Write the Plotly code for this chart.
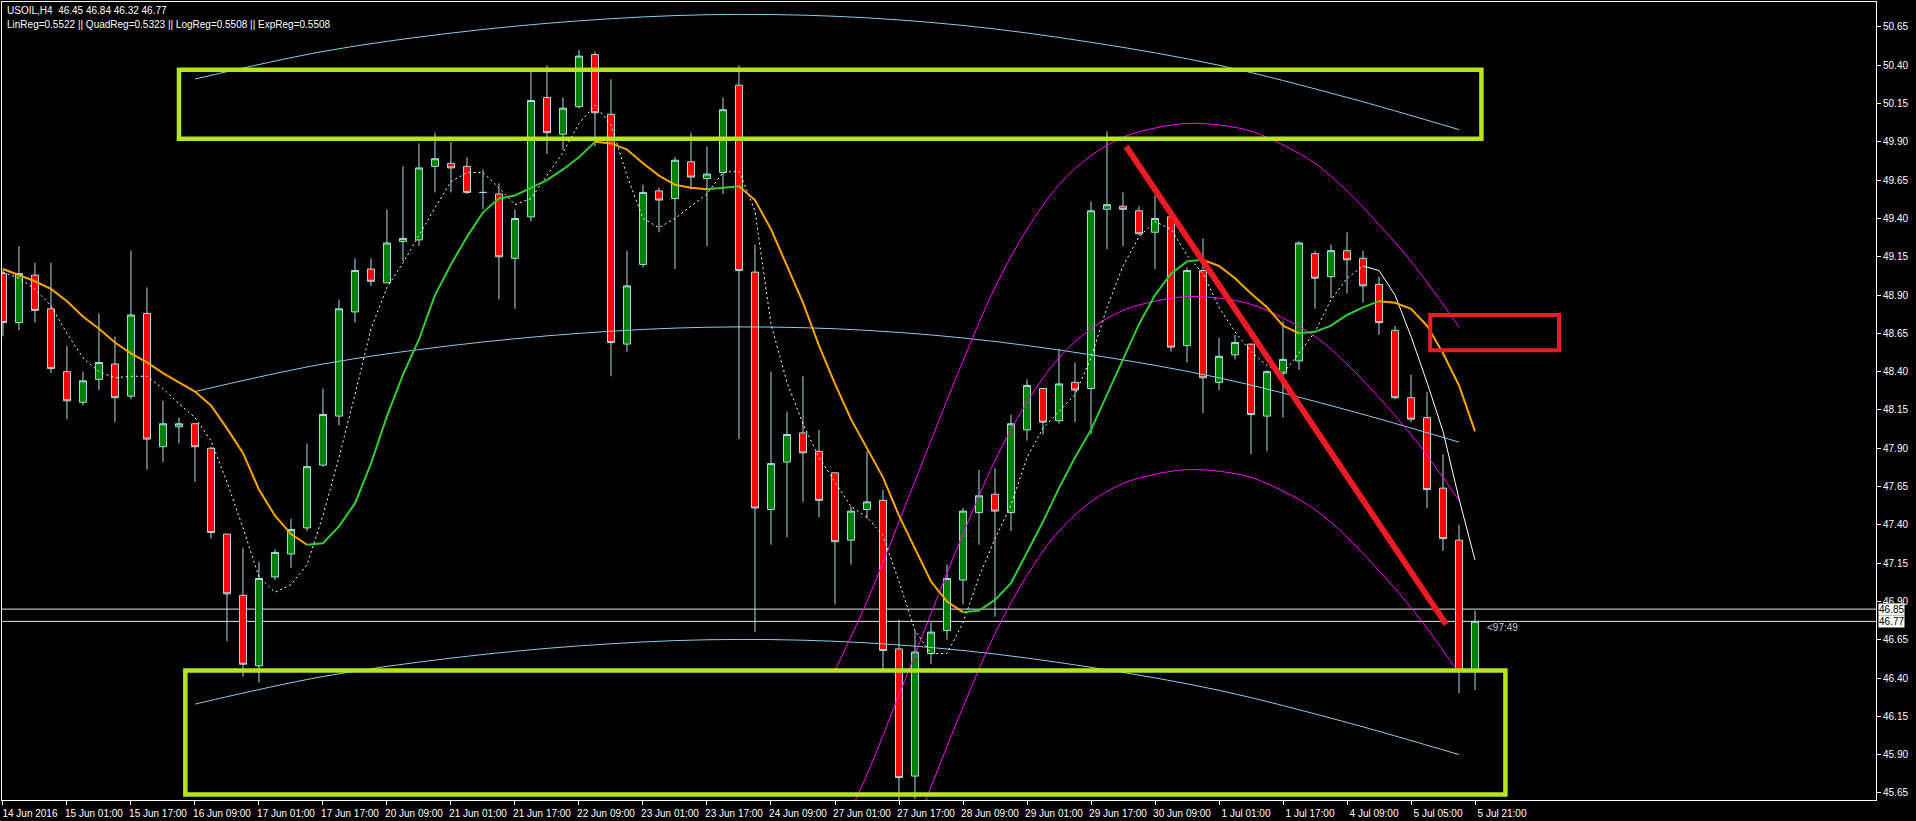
import plotly.graph_objects as go

# ---------------- data ----------------
BARS = list(range(93))
OPEN = [49.04,48.72,49.03,48.81,48.40,48.20,48.35,48.45,48.24,48.78,47.91,48.04,48.06,47.90,47.34,46.94,46.48,47.06,47.21,47.38,
        47.79,48.11,48.79,49.07,48.98,49.25,49.26,49.74,49.76,49.74,49.57,49.56,49.14,49.41,50.19,49.95,50.13,50.47,50.08,48.58,
        49.10,49.58,49.53,49.77,49.66,49.70,50.27,49.05,47.50,47.81,48.00,47.88,47.74,47.30,47.50,47.56,46.59,45.76,46.56,46.71,
        47.04,47.48,47.60,47.48,48.02,48.29,48.08,48.33,48.29,49.46,49.48,49.45,49.31,49.41,48.57,49.06,48.33,48.51,48.58,48.11,
        48.39,48.47,49.17,49.02,49.19,49.14,48.97,48.67,48.23,48.10,47.64,47.30,46.45]
HIGH = [49.06,49.22,49.11,49.11,48.57,48.40,48.78,48.63,49.19,48.95,48.21,48.10,48.06,47.91,47.34,47.25,47.16,47.24,47.44,47.93,
        48.29,48.87,49.14,49.14,49.46,49.74,49.89,49.96,49.90,49.80,49.72,49.63,49.46,50.36,50.40,50.19,50.50,50.49,50.31,49.19,
        49.62,49.60,49.80,49.96,49.87,50.19,50.40,49.23,48.40,48.14,48.37,48.02,47.74,47.52,47.88,47.63,46.78,46.71,46.76,47.14,
        47.51,47.76,47.77,48.12,48.35,48.29,48.55,48.46,49.51,49.97,49.57,49.48,49.55,49.41,49.08,49.27,48.62,48.64,48.58,48.41,
        48.73,49.25,49.19,49.23,49.31,49.19,49.02,48.70,48.38,48.27,47.86,47.40,46.84]
LOW = [48.63,48.67,48.72,48.39,48.09,48.18,48.28,48.07,48.22,47.76,47.81,47.93,47.68,47.31,46.64,46.41,46.37,47.04,47.12,47.36,
       47.78,48.05,48.72,48.96,48.98,49.12,49.22,49.57,49.57,49.56,49.46,48.87,48.81,49.38,49.82,49.85,50.12,49.87,48.37,48.53,
       49.08,49.31,49.07,49.59,49.22,49.56,47.96,46.70,47.27,47.32,47.55,47.45,46.88,47.14,47.44,46.45,45.59,45.61,46.49,46.65,
       46.88,47.27,46.80,47.36,47.95,47.99,48.06,48.07,47.99,49.20,49.22,49.29,49.07,48.53,48.46,48.13,48.28,48.48,47.86,47.88,
       48.10,48.41,48.81,48.88,48.91,48.85,48.64,48.22,48.07,47.51,47.23,46.30,46.32]
CLOSE = [48.72,49.04,48.80,48.42,48.21,48.34,48.46,48.23,48.77,47.96,48.06,48.06,47.91,47.35,46.95,46.49,47.05,47.22,47.37,47.78,
         48.12,48.81,49.06,48.99,49.24,49.27,49.73,49.79,49.73,49.57,49.57,49.15,49.40,50.17,49.96,50.12,50.46,50.09,48.59,48.96,
         49.57,49.52,49.78,49.67,49.69,50.11,49.06,47.51,47.80,47.99,47.87,47.56,47.29,47.49,47.55,46.58,45.75,46.57,46.70,47.05,
         47.49,47.59,47.49,48.06,48.31,48.07,48.32,48.28,49.45,49.49,49.46,49.30,49.40,48.56,49.06,48.36,48.50,48.59,48.12,48.40,
         48.48,49.24,49.01,49.19,49.13,48.96,48.72,48.23,48.09,47.63,47.31,46.45,46.77]

MA_SLOW = [49.07,49.03,48.99,48.94,48.86,48.76,48.68,48.59,48.52,48.46,48.39,48.33,48.27,48.18,48.03,47.87,47.63,47.46,47.34,47.27,
           47.28,47.39,47.54,47.80,48.11,48.38,48.61,48.90,49.10,49.28,49.44,49.53,49.55,49.60,49.65,49.72,49.80,49.90,49.89,49.85,
           49.76,49.68,49.62,49.60,49.59,49.60,49.61,49.52,49.33,49.09,48.85,48.57,48.32,48.09,47.90,47.71,47.46,47.25,47.03,46.90,
           46.83,46.84,46.91,47.02,47.22,47.42,47.64,47.84,48.02,48.25,48.47,48.71,48.90,49.04,49.12,49.13,49.09,49.01,48.91,48.82,
           48.70,48.65,48.66,48.70,48.77,48.82,48.86,48.85,48.81,48.70,48.52,48.31,48.01]
MA_FAST = [49.05,49.01,48.94,48.83,48.65,48.49,48.40,48.36,48.37,48.37,48.29,48.19,48.10,47.95,47.68,47.38,47.06,46.96,47.01,47.14,
           47.46,47.84,48.25,48.68,48.95,49.11,49.29,49.47,49.64,49.70,49.70,49.60,49.49,49.53,49.68,49.83,50.02,50.14,50.01,49.68,
           49.40,49.34,49.40,49.48,49.56,49.70,49.71,49.45,48.71,48.33,48.06,47.84,47.68,47.52,47.45,47.33,47.03,46.71,46.56,46.56,
           46.76,47.06,47.31,47.53,47.84,48.03,48.14,48.25,48.49,48.82,49.09,49.28,49.38,49.33,49.16,49.04,48.82,48.66,48.53,48.44,
           48.39,48.52,48.66,48.87,49.01,49.09,49.06,48.90,48.63,48.33,48.01,47.57,47.17]
FAST_SOLID_FROM = 85

BLUE_X = [12, 20, 28, 36, 44, 52, 60, 68, 76, 84, 91]
BLUE_UP = [50.31,50.49,50.61,50.69,50.73,50.72,50.66,50.55,50.40,50.19,49.98]
BLUE_MID = [48.27,48.45,48.57,48.65,48.69,48.68,48.62,48.51,48.36,48.15,47.94]
BLUE_LO = [46.23,46.41,46.53,46.61,46.65,46.64,46.58,46.47,46.32,46.11,45.90]

MAG_X = [52, 54, 56, 58, 60, 62, 64, 66, 68, 70, 72, 74, 76, 78, 80, 82, 84, 86, 88, 90, 91]
MAG_UP = [46.45,46.90,47.42,47.95,48.47,48.95,49.33,49.62,49.81,49.93,49.99,50.02,50.01,49.97,49.88,49.76,49.58,49.36,49.12,48.84,48.69]
MAG_MID = [45.32,45.77,46.29,46.82,47.34,47.82,48.20,48.49,48.68,48.80,48.86,48.89,48.88,48.84,48.75,48.63,48.45,48.23,47.99,47.71,47.56]
MAG_LO = [44.19,44.64,45.16,45.69,46.21,46.69,47.07,47.36,47.55,47.67,47.73,47.76,47.75,47.71,47.62,47.50,47.32,47.10,46.86,46.58,46.43]

X_TICK_POS = [0,4,8,12,16,20,24,28,32,36,40,44,48,52,56,60,64,68,72,76,80,84,88,92]
X_TICK_TEXT = ["14 Jun 2016","15 Jun 01:00","15 Jun 17:00","16 Jun 09:00","17 Jun 01:00","17 Jun 17:00",
               "20 Jun 09:00","21 Jun 01:00","21 Jun 17:00","22 Jun 09:00","23 Jun 01:00","23 Jun 17:00",
               "24 Jun 09:00","27 Jun 01:00","27 Jun 17:00","28 Jun 09:00","29 Jun 01:00","29 Jun 17:00",
               "30 Jun 09:00","1 Jul 01:00","1 Jul 17:00","4 Jul 09:00","5 Jul 05:00","5 Jul 21:00"]
Y_TICK_VALS = [45.65,45.90,46.15,46.40,46.65,46.90,47.15,47.40,47.65,47.90,48.15,48.40,48.65,48.90,49.15,49.40,49.65,49.90,50.15,50.40,50.65]
Y_TICK_TEXT = ["45.65","45.90","46.15","46.40","46.65","46.90","47.15","47.40","47.65","47.90","48.15","48.40","48.65","48.90",
               "49.15","49.40","49.65","49.90","50.15","50.40","50.65"]

ASK, BID = 46.85, 46.77
TITLE_1 = "USOIL,H4  46.45 46.84 46.32 46.77"
TITLE_2 = "LinReg=0.5522 || QuadReg=0.5323 || LogReg=0.5508 || ExpReg=0.5508"
TIMER = "<97:49"

# hand-drawn marks (bar index / price)
ZONE_TOP = dict(x0=11.0, x1=92.4, y0=49.92, y1=50.37)
ZONE_BOT = dict(x0=11.4, x1=93.9, y0=45.64, y1=46.45)
TREND = dict(x0=70.2, y0=49.87, x1=90.2, y1=46.75)
TARGET = dict(x0=89.2, x1=97.25, y0=48.54, y1=48.77)

# ---------------- figure ----------------
FONT = "Liberation Sans"
OUTLINE = "#A8DCE8"
fig = go.Figure()

fig.add_trace(go.Candlestick(
    x=BARS, open=OPEN, high=HIGH, low=LOW, close=CLOSE,
    increasing=dict(line=dict(color=OUTLINE, width=1), fillcolor="#008000"),
    decreasing=dict(line=dict(color=OUTLINE, width=1), fillcolor="#FF0000"),
    whiskerwidth=0, hoverinfo="skip"))

for ys in (BLUE_UP, BLUE_MID, BLUE_LO):
    fig.add_trace(go.Scatter(x=BLUE_X, y=ys, mode="lines", line=dict(color="#87CEEB", width=1, shape="spline"),
                             hoverinfo="skip"))
for ys in (MAG_UP, MAG_MID, MAG_LO):
    fig.add_trace(go.Scatter(x=MAG_X, y=ys, mode="lines", line=dict(color="#FF00FF", width=1, shape="spline"),
                             hoverinfo="skip"))

# fast MA: dotted then solid
fig.add_trace(go.Scatter(x=BARS[:FAST_SOLID_FROM + 1], y=MA_FAST[:FAST_SOLID_FROM + 1], mode="lines",
                         line=dict(color="white", width=1, dash="2px,3px"), hoverinfo="skip"))
fig.add_trace(go.Scatter(x=BARS[FAST_SOLID_FROM:], y=MA_FAST[FAST_SOLID_FROM:], mode="lines",
                         line=dict(color="white", width=1), hoverinfo="skip"))

# slow MA colored by slope
runs = []
for i in range(len(MA_SLOW) - 1):
    up = MA_SLOW[i + 1] > MA_SLOW[i]
    if runs and runs[-1][0] == up:
        runs[-1][1].append(i + 1)
    else:
        runs.append([up, [i, i + 1]])
for up, idx in runs:
    fig.add_trace(go.Scatter(x=[BARS[k] for k in idx], y=[MA_SLOW[k] for k in idx], mode="lines",
                             line=dict(color="#32CD32" if up else "#FFA500", width=2), hoverinfo="skip"))

LIME = "#B5E61D"
RED = "#ED1C24"
shapes = []
for lvl in (ASK, BID):
    shapes.append(dict(type="line", xref="paper", x0=0, x1=1, yref="y", y0=lvl, y1=lvl,
                       line=dict(color="#E8E8E8", width=1), layer="below"))
for z in (ZONE_TOP, ZONE_BOT):
    shapes.append(dict(type="rect", xref="x", yref="y", **z, line=dict(color=LIME, width=4.5),
                       fillcolor="rgba(0,0,0,0)"))
shapes.append(dict(type="line", xref="x", yref="y", **TREND, line=dict(color=RED, width=6)))
shapes.append(dict(type="rect", xref="x", yref="y", **TARGET, line=dict(color=RED, width=4),
                   fillcolor="rgba(0,0,0,0)"))

annotations = [
    dict(xref="paper", yref="paper", x=0, y=1 - 9 / 798, xanchor="left", yanchor="middle", xshift=3,
         text=TITLE_1, showarrow=False, font=dict(family=FONT, size=10, color="white")),
    dict(xref="paper", yref="paper", x=0, y=1 - 22 / 798, xanchor="left", yanchor="middle", xshift=3,
         text=TITLE_2, showarrow=False, font=dict(family=FONT, size=10, color="white")),
    dict(xref="x", yref="y", x=92.6, y=46.73, xanchor="left", yanchor="middle", text=TIMER, showarrow=False,
         font=dict(family=FONT, size=10, color="#C8C8C8")),
]
for lvl in (ASK, BID):
    annotations.append(dict(xref="paper", yref="y", x=1, y=lvl, xanchor="left", yanchor="middle", xshift=2,
                            text=f"{lvl:.2f}", showarrow=False, bgcolor="white", borderpad=0,
                            font=dict(family=FONT, size=10, color="black")))

fig.update_layout(
    width=1916, height=821, margin=dict(l=2, r=40, t=2, b=21),
    paper_bgcolor="black", plot_bgcolor="black", showlegend=False, boxgap=0.37,
    shapes=shapes, annotations=annotations,
    xaxis=dict(range=[-0.06, 117.06], showgrid=False, zeroline=False, rangeslider=dict(visible=False),
               tickmode="array", tickvals=X_TICK_POS, ticktext=X_TICK_TEXT, ticks="outside", ticklen=4,
               tickcolor="white", tickfont=dict(family=FONT, size=10, color="white"), ticklabelshift=27,
               showline=True, linecolor="white", linewidth=1, mirror=True),
    yaxis=dict(range=[45.604, 50.813], side="right", showgrid=False, zeroline=False,
               tickmode="array", tickvals=Y_TICK_VALS, ticktext=Y_TICK_TEXT, ticks="outside", ticklen=4,
               tickcolor="white", tickfont=dict(family=FONT, size=10, color="white"),
               showline=True, linecolor="white", linewidth=1, mirror=True),
)

fig.write_html("out.html", config={"displayModeBar": False},
               post_script="document.body.style.margin='0px';document.body.style.overflow='hidden';")
